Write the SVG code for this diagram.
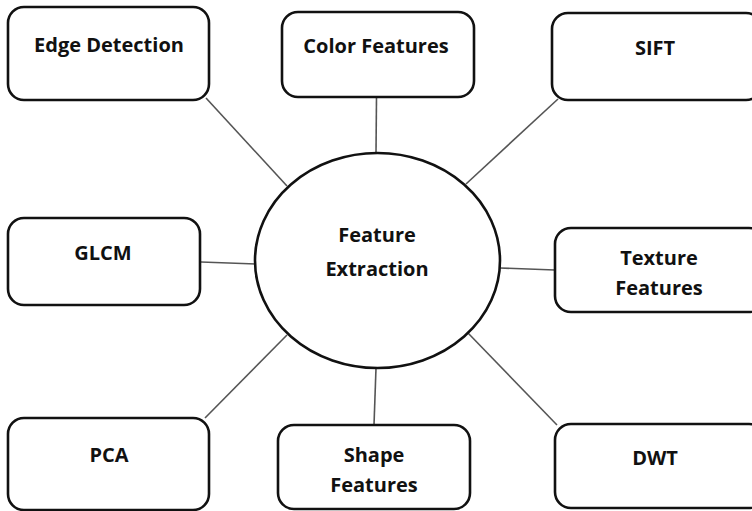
<svg xmlns="http://www.w3.org/2000/svg" width="752" height="511" viewBox="0 0 752 511">
  <style>
    .box { fill: #ffffff; stroke: #111111; stroke-width: 2.6; }
    .hub { fill: #ffffff; stroke: #111111; stroke-width: 2.6; }
    .link { stroke: #555555; stroke-width: 1.6; fill: none; }
    .label { font-family: "Open Sans", "Liberation Sans", sans-serif; font-weight: 700; font-size: 20px; fill: #111111; text-anchor: middle; }
  </style>
  <rect width="752" height="511" fill="#ffffff"/>

  <!-- spokes from the hub to each technique -->
  <g id="connectors">
    <line class="link" x1="206" y1="98" x2="287" y2="186"/>
    <line class="link" x1="376.5" y1="97" x2="376" y2="153"/>
    <line class="link" x1="558" y1="99" x2="466" y2="184"/>
    <line class="link" x1="201" y1="262" x2="256" y2="264"/>
    <line class="link" x1="500" y1="268" x2="555" y2="270"/>
    <line class="link" x1="205" y1="418" x2="287" y2="335"/>
    <line class="link" x1="376" y1="368" x2="374" y2="425"/>
    <line class="link" x1="557" y1="425" x2="468" y2="333"/>
  </g>

  <g id="feature-extraction">
    <ellipse class="hub" cx="377.5" cy="260.5" rx="122.5" ry="107.5"/>
    <text class="label" x="377" y="242">Feature</text>
    <text class="label" x="377" y="276">Extraction</text>
  </g>

  <g id="edge-detection">
    <rect class="box" x="8" y="7" width="201" height="93" rx="16"/>
    <text class="label" x="109" y="52">Edge Detection</text>
  </g>

  <g id="color-features">
    <rect class="box" x="282" y="12" width="192" height="85" rx="16"/>
    <text class="label" x="376" y="53">Color Features</text>
  </g>

  <g id="sift">
    <rect class="box" x="552" y="13" width="210" height="87" rx="16"/>
    <text class="label" x="655" y="55">SIFT</text>
  </g>

  <g id="glcm">
    <rect class="box" x="8" y="218" width="192" height="87" rx="16"/>
    <text class="label" x="103" y="260">GLCM</text>
  </g>

  <g id="texture-features">
    <rect class="box" x="555" y="228" width="210" height="84" rx="16"/>
    <text class="label" x="659" y="265">Texture</text>
    <text class="label" x="659" y="295">Features</text>
  </g>

  <g id="pca">
    <rect class="box" x="8" y="418" width="201" height="92" rx="16"/>
    <text class="label" x="109" y="462">PCA</text>
  </g>

  <g id="shape-features">
    <rect class="box" x="278" y="425" width="192" height="84" rx="16"/>
    <text class="label" x="374" y="462">Shape</text>
    <text class="label" x="374" y="492">Features</text>
  </g>

  <g id="dwt">
    <rect class="box" x="555" y="424" width="210" height="84" rx="16"/>
    <text class="label" x="655" y="465">DWT</text>
  </g>
</svg>
